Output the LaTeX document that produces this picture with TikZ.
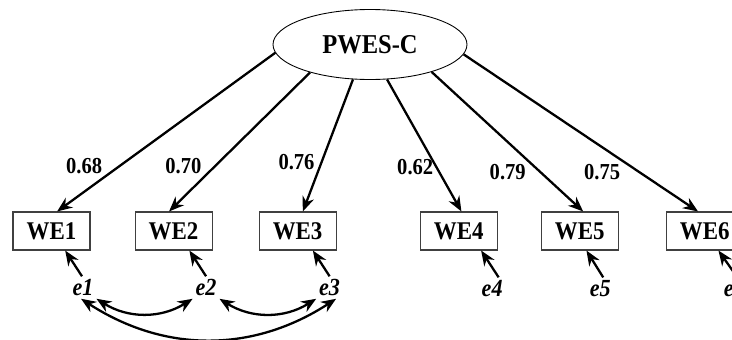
\documentclass[tikz,border=0pt]{standalone}
\usepackage{fontspec}
\setmainfont{Liberation Serif}
\newfontfamily\narrowserif[FakeStretch=0.9]{Liberation Serif}
\usetikzlibrary{arrows.meta, positioning, calc, shapes.geometric}
\tikzset{%
	latent/.style={draw, ellipse, minimum width=38.8mm, minimum height=14mm, inner sep=0mm,%
		line width=0.5pt, font=\narrowserif\fontsize{15.5}{17}\selectfont\bfseries},
	obs/.style={draw=black!75, rectangle, minimum width=15.4mm, minimum height=7.6mm,%
		inner sep=0mm, line width=0.6pt, font=\narrowserif\fontsize{14.5}{16}\selectfont\bfseries},
	err/.style={inner sep=1.5pt, font=\narrowserif\fontsize{14}{16}\selectfont\bfseries\itshape},
	coef/.style={inner sep=1pt, font=\narrowserif\fontsize{13}{15}\selectfont\bfseries},
	load/.style={->, line width=1.3pt},
	res/.style={->, line width=1.3pt},
	cov/.style={<->, line width=1.3pt}
}

\begin{document}
\begin{tikzpicture}[>={Stealth[length=3mm, width=2.4mm]}]
	\useasboundingbox (0,0) rectangle (14.64,-6.78);
	\node[latent] (pwes) at (7.40,-0.89) {PWES-C};
	\node[obs] (we1) at (1.03,-4.62) {WE1};
	\node[obs] (we2) [right=0.88 of we1] {WE2};
	\node[obs] (we3) [right=0.92 of we2] {WE3};
	\node[obs] (we4) [right=1.66 of we3] {WE4};
	\node[obs] (we5) [right=0.86 of we4] {WE5};
	\node[obs] (we6) [right=0.94 of we5] {WE6};
	\node[err] (e1) at ($(we1.south)+(0.63,-0.74)$) {e1};
	\node[err] (e2) at ($(we2.south)+(0.65,-0.74)$) {e2};
	\node[err] (e3) at ($(we3.south)+(0.64,-0.74)$) {e3};
	\node[err] (e4) at ($(we4.south)+(0.67,-0.76)$) {e4};
	\node[err] (e5) at ($(we5.south)+(0.41,-0.76)$) {e5};
	\node[err] (e6) at ($(we6.south)+(0.59,-0.76)$) {e6};
	\draw [load] (pwes.185) to node[coef, pos=0.78, above left]{0.68} (we1.74);
	\draw [load] (pwes.205) to node[coef, pos=0.75, above left]{0.70} (we2.103);
	\draw [load] (pwes.244) to node[coef, pos=0.71, above left]{0.76} (we3.75);
	\draw [load] (pwes.296) to node[coef, pos=0.66, left]{0.62} (we4.82);
	\draw [load] (pwes.336) to node[coef, pos=0.64, below left]{0.79} (we5.80);
	\draw [load] (pwes.354) to node[coef, pos=0.68, below left]{0.75} (we6.109);
	\draw [res] (e1.95) to (we1.-55);
	\draw [res] (e2.north) to (we2.-51);
	\draw [res] (e3.north) to (we3.-52);
	\draw [res] (e4.60) to (we4.-41);
	\draw [res] (e5.75) to (we5.-71);
	\draw [res] (e6.75) to (we6.-55);
	\draw [cov] (e1.south east) to[bend right=32] (e2.south west);
	\draw [cov] (e2.south east) to[bend right=32] (e3.south west);
	\draw [cov] (e1.-100) to[bend right=33] (e3.-60);
\end{tikzpicture}
\end{document}
